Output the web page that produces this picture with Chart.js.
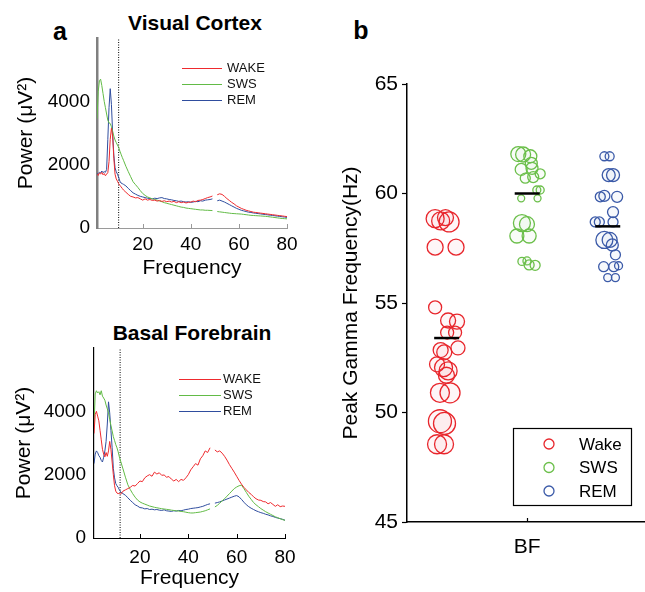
<!DOCTYPE html>
<html><head><meta charset="utf-8">
<script src="https://cdn.jsdelivr.net/npm/chart.js@4.4.1/dist/chart.umd.min.js"></script>
<style>
body{margin:0;background:#fff;width:645px;height:592px;position:relative;overflow:hidden;font-family:'Liberation Sans',Arial,sans-serif;}
canvas{position:absolute;}
.t{position:absolute;transform:translate(-50%,-50%);white-space:nowrap;line-height:1;color:#000;font-weight:bold;}
</style></head>
<body>
<div class="t" style="left:60px;top:31px;font-size:25px;">a</div>
<div class="t" style="left:361px;top:30px;font-size:25px;">b</div>
<div class="t" style="left:195px;top:22px;font-size:21px;">Visual Cortex</div>
<div class="t" style="left:192px;top:332px;font-size:21px;">Basal Forebrain</div>
<canvas id="vc" width="320" height="290" style="left:0;top:0;"></canvas>
<canvas id="bf" width="320" height="292" style="left:0;top:300px;"></canvas>
<canvas id="gm" width="315" height="592" style="left:330px;top:0;"></canvas>
<script>
// ---------- data ----------
const freqs = [1,1.5,2,2.5,3,3.5,4,4.5,5,5.5,6,6.5,7,7.5,8,8.5,9,9.5,10,10.5,11,11.5,12,
13,14,15,16,17,18,19,20,21,22,23,24,25,26,27,28,29,30,31,32,33,34,35,36,37,38,39,40,41,42,43,44,45,46,47,48,49,50,51,52,53,54,55,56,57,58,59,60,61,62,63,64,65,66,67,68,69,70,71,72,73,74,75,76,77,78,79,80];

const vcWake = [1700,1660,1740,1700,1760,1680,1720,1650,1700,1750,2100,2800,3150,2900,2200,1700,1550,1480,1400,1350,1300,1250,1200,
1130,1060,1000,980,950,960,920,880,920,880,900,870,880,850,870,840,860,830,850,820,840,800,830,800,820,790,810,820,850,830,870,880,900,930,960,980,1010,null,1050,1080,1060,1000,930,870,810,760,700,660,620,590,560,540,520,500,490,480,470,460,450,440,430,420,410,400,390,380,370,360];
const vcSws = [3450,4300,4650,4700,4500,4250,4000,3800,3600,3400,3320,3300,3200,3050,2900,2780,2700,2620,2550,2430,2330,2230,2140,
1950,1780,1620,1460,1370,1280,1180,1090,1030,980,950,920,900,880,850,830,800,780,760,740,720,700,680,660,650,630,620,610,600,590,580,570,570,560,560,555,550,null,520,510,500,490,480,470,460,455,450,445,440,430,420,410,400,395,390,385,380,375,370,360,350,340,330,320,310,300,295,290];
const vcRem = [1700,1720,1760,1740,1800,1750,1780,1760,1850,2800,3800,4400,3900,3000,2300,1900,1780,1700,1600,1480,1420,1400,1380,
1330,1250,1180,1110,1070,1030,1000,980,960,940,930,920,940,930,950,960,930,920,900,890,870,860,840,850,830,820,830,810,820,840,830,860,850,880,890,900,920,null,860,880,850,820,780,740,700,660,620,590,560,540,520,500,490,475,465,455,445,435,425,415,405,395,385,375,365,355,345,335];

const bfWake = [3300,3900,4000,3850,3700,3400,3100,2800,2650,2560,2700,2580,2750,3050,2800,2400,2000,1650,1480,1420,1400,1420,1380,
1480,1520,1560,1600,1660,1640,1720,1800,1780,1900,1960,2000,1950,2080,2020,2060,1980,1990,1920,1940,1860,1800,1850,1780,1850,1820,1900,2000,2150,2250,2350,2300,2500,2600,2750,2700,2850,null,2780,2720,2750,2680,2580,2460,2320,2200,2080,1950,1820,1700,1600,1520,1440,1380,1300,1240,1200,1190,1150,1140,1080,1120,1060,1000,1050,990,1010,1000];
const bfSws = [3550,4550,4650,4580,4620,4520,4650,4480,4420,4350,4200,4080,3950,3750,3550,3380,3200,3080,2950,2850,2720,2560,2430,
2180,1920,1680,1530,1400,1290,1200,1140,1100,1070,1040,1010,990,970,955,940,925,915,905,895,880,870,860,850,840,830,815,800,790,790,800,810,820,840,860,890,920,null,980,1030,1100,1170,1240,1320,1400,1480,1560,1610,1650,1670,1560,1440,1320,1220,1120,1050,990,930,880,830,790,750,710,670,640,610,580,560];
const bfRem = [2350,2650,2750,2700,2600,2550,2450,2400,2550,2750,3050,3600,4300,3950,3400,2850,2200,1900,1720,1650,1600,1520,1460,
1400,1350,1270,1190,1120,1050,1010,960,950,920,930,900,910,890,900,880,870,890,860,850,840,860,850,870,860,880,900,910,930,940,950,960,980,1000,1030,1060,1080,null,1100,1120,1140,1170,1200,1230,1260,1290,1320,1340,1300,1220,1130,1050,990,940,900,860,830,800,780,750,730,700,680,650,630,610,590,560];

const stateNames = ['WAKE','SWS','REM'];
const powerTicks = [0,2000,4000];
const freqTicks = [20,40,60,80];
const vcCutoff = 10;
const bfCutoff = 11.8;

const gammaNames = ['Wake','SWS','REM'];
const regionLabel = 'BF';
const gammaTicks = [45,50,55,60,65];
const wakeX = [0.617,0.640,0.675,0.660,0.617,0.704,0.617,0.671,0.708,0.667,0.700,0.712,0.640,0.655,0.625,0.652,0.671,0.664,0.637,0.679,0.637,0.656,0.625,0.654];
const wakeY = [58.85,58.75,58.7,58.9,57.55,57.55,54.8,54.2,54.15,53.65,53.65,52.95,52.85,52.75,52.2,52.05,51.9,51.7,50.9,50.9,49.6,49.5,48.55,48.55];
const wakeR = [9,9,10,8,8,8,6.5,7.5,7.5,6.5,6.5,7,7.5,7.5,7.5,9,9,8,9.5,10,11.5,11,9.5,9.5];
const swsX = [0.963,0.983,1.013,1.017,0.975,1.020,0.992,1.025,1.054,1.040,1.054,0.975,1.043,0.978,0.999,0.957,1.008,0.978,1.008,1.033,0.999];
const swsY = [61.8,61.78,61.7,61.38,61.1,61.15,60.7,60.75,60.9,60.16,60.16,59.78,59.78,58.65,58.6,58.06,58.06,56.9,56.74,56.72,56.92];
const swsR = [7.5,7.5,6.5,6,6,6,5,5.5,5,4,4,3.5,3.5,8.5,7.5,7,7,4,5,5,4];
const remX = [1.321,1.343,1.339,1.357,1.304,1.321,1.374,1.357,1.283,1.300,1.357,1.321,1.343,1.354,1.367,1.318,1.360,1.380,1.335,1.367];
const remY = [61.7,61.7,60.84,60.84,59.85,59.89,59.85,59.15,58.7,58.7,58.7,57.88,57.88,57.65,57.2,56.66,56.66,56.7,56.16,56.16];
const remR = [4.5,4.5,6.5,6.5,5,5.5,5.5,5.5,5,5,5,8.5,7.5,6,5,5,5,4,4,4];
const groupCenters = [0.665,1.0,1.335];
const groupMeans = [53.4,60.0,58.5];

// ---------- styling ----------
const FONT = "'Liberation Sans', Arial, sans-serif";
const RED = '#ee2a2e', GREEN = '#62bb46', BLUE = '#2f4d9e';
const CRED = '#e8262c', CGREEN = '#6bbf4a', CBLUE = '#3b5aa8';
const plain = v => String(v);

const inwardTicks = {
  id: 'inwardTicks',
  afterDraw(chart, args, o) {
    const ctx = chart.ctx, xs = chart.scales.x, y0 = chart.chartArea.bottom;
    ctx.save(); ctx.strokeStyle = o.color; ctx.lineWidth = o.width;
    o.values.forEach(v => { const px = Math.round(xs.getPixelForValue(v)) + 0.5;
      ctx.beginPath(); ctx.moveTo(px, y0); ctx.lineTo(px, y0 - o.len); ctx.stroke(); });
    ctx.restore();
  }
};
const lineLegend = {
  id: 'lineLegend',
  afterDraw(chart, args, o) {
    const ctx = chart.ctx; ctx.save();
    ctx.font = '13px ' + FONT; ctx.textBaseline = 'middle'; ctx.textAlign = 'left';
    chart.data.datasets.filter(d => d.label).forEach((d, i) => {
      const y = o.y + i * o.dy + 0.5;
      ctx.strokeStyle = d.borderColor; ctx.lineWidth = 1;
      ctx.beginPath(); ctx.moveTo(o.x1, y); ctx.lineTo(o.x2, y); ctx.stroke();
      ctx.fillStyle = '#111'; ctx.fillText(d.label, o.tx, y);
    });
    ctx.restore();
  }
};
const circleLegend = {
  id: 'circleLegend',
  afterDraw(chart, args, o) {
    const ctx = chart.ctx; ctx.save();
    ctx.fillStyle = '#fff'; ctx.fillRect(o.left, o.top, o.w, o.h);
    ctx.strokeStyle = '#000'; ctx.lineWidth = 1.2; ctx.strokeRect(o.left + 0.5, o.top + 0.5, o.w, o.h);
    ctx.font = '17px ' + FONT; ctx.textBaseline = 'middle'; ctx.textAlign = 'left';
    chart.data.datasets.filter(d => d.label).forEach((d, i) => {
      const y = o.y0 + i * o.dy;
      ctx.strokeStyle = d.borderColor; ctx.lineWidth = 1.3;
      ctx.beginPath(); ctx.arc(o.cx, y, 5, 0, Math.PI * 2); ctx.stroke();
      ctx.fillStyle = '#000'; ctx.fillText(d.label, o.tx, y + 1);
    });
    ctx.restore();
  }
};

function series(arr) { return freqs.map((f, i) => ({ x: f, y: arr[i] })); }

function spectrum(id, vals, cut, c) {
  const ds = [
    { label: stateNames[0], data: series(vals[0]), borderColor: RED },
    { label: stateNames[1], data: series(vals[1]), borderColor: GREEN },
    { label: stateNames[2], data: series(vals[2]), borderColor: BLUE },
    { data: [{ x: cut, y: 0 }, { x: cut, y: 6000 }], borderColor: '#000', borderDash: [1, 1.5] }
  ].map(d => Object.assign({ showLine: true, pointRadius: 0, borderWidth: 1, spanGaps: false, fill: false }, d));
  return new Chart(document.getElementById(id), {
    type: 'scatter',
    data: { datasets: ds },
    plugins: [inwardTicks, lineLegend],
    options: {
      responsive: false, animation: false, devicePixelRatio: 1, events: [],
      layout: { autoPadding: false, padding: { left: 0, right: c.padRight, top: c.padTop, bottom: 0 } },
      plugins: {
        legend: { display: false }, tooltip: { enabled: false },
        inwardTicks: { values: freqTicks, len: 4, color: c.xAxisColor, width: 1 },
        lineLegend: c.legend
      },
      scales: {
        x: {
          type: 'linear', min: 1, max: 80,
          afterBuildTicks: s => { s.ticks = freqTicks.map(v => ({ value: v })); },
          afterFit: s => { s.height = c.xHeight; },
          grid: { drawOnChartArea: false, drawTicks: false },
          border: { display: true, color: c.xAxisColor, width: 1 },
          ticks: { color: '#000', font: { family: FONT, size: 19 }, padding: c.xTickPad, maxRotation: 0, autoSkip: false, callback: plain },
          title: { display: true, text: 'Frequency', color: '#000', font: { family: FONT, size: 21 }, padding: { top: 0, bottom: c.xTitlePad } }
        },
        y: {
          min: 0, max: 6000,
          afterBuildTicks: s => { s.ticks = powerTicks.map(v => ({ value: v })); },
          afterFit: s => { s.width = c.yWidth; },
          grid: { drawOnChartArea: false, drawTicks: false },
          border: { display: true, color: c.yAxisColor, width: c.yAxisWidth },
          ticks: { color: '#000', font: { family: FONT, size: 19 }, padding: c.yTickPad, callback: plain },
          title: { display: true, text: 'Power (μV²)', color: '#000', font: { family: FONT, size: 21 }, padding: { top: c.yTitlePad, bottom: 0 } }
        }
      }
    }
  });
}

spectrum('vc', [vcWake, vcSws, vcRem], vcCutoff, {
  padRight: 33, padTop: 38, xHeight: 62, yWidth: 97, xTickPad: 5, xTitlePad: 9, yTickPad: 7, yTitlePad: 14,
  xAxisColor: '#9a9a9a', yAxisColor: '#808080', yAxisWidth: 2.5,
  legend: { x1: 182, x2: 222, tx: 227, y: 68, dy: 16 }
});
spectrum('bf', [bfWake, bfSws, bfRem], bfCutoff, {
  padRight: 35, padTop: 48, xHeight: 54, yWidth: 94, xTickPad: 8, xTitlePad: 1, yTickPad: 8, yTitlePad: 12,
  xAxisColor: '#000', yAxisColor: '#000', yAxisWidth: 1.2,
  legend: { x1: 179, x2: 221, tx: 223, y: 79, dy: 16 }
});

// ---------- panel b ----------
function bubbles(xs, ys, rs) { return xs.map((x, i) => ({ x: x, y: ys[i], r: rs[i] })); }
const gds = [
  { label: gammaNames[0], data: bubbles(wakeX, wakeY, wakeR), borderColor: CRED, backgroundColor: 'rgba(232,38,44,0.04)' },
  { label: gammaNames[1], data: bubbles(swsX, swsY, swsR), borderColor: CGREEN, backgroundColor: 'rgba(107,191,74,0.04)' },
  { label: gammaNames[2], data: bubbles(remX, remY, remR), borderColor: CBLUE, backgroundColor: 'rgba(59,90,168,0.04)' }
].map(d => Object.assign({ type: 'bubble', borderWidth: 1.3, order: 2, clip: false }, d));
groupMeans.forEach((m, i) => {
  gds.push({ type: 'line', data: [{ x: groupCenters[i] - 0.052, y: m }, { x: groupCenters[i] + 0.052, y: m }],
    borderColor: '#000', borderWidth: 2.5, pointRadius: 0, order: 0 });
});
new Chart(document.getElementById('gm'), {
  type: 'bubble',
  data: { datasets: gds },
  plugins: [inwardTicks, circleLegend],
  options: {
    responsive: false, animation: false, devicePixelRatio: 1, events: [],
    layout: { autoPadding: false, padding: { left: 0, right: 0, top: 84, bottom: 0 } },
    plugins: {
      legend: { display: false }, tooltip: { enabled: false },
      inwardTicks: { values: [1], len: 4, color: '#000', width: 1.2 },
      circleLegend: { left: 183, top: 428, w: 118, h: 77, cx: 219, tx: 249, y0: 444, dy: 23.5 }
    },
    scales: {
      x: {
        type: 'linear', min: 0.5, max: 1.49,
        afterBuildTicks: s => { s.ticks = [{ value: 1 }]; },
        afterFit: s => { s.height = 70; },
        grid: { drawOnChartArea: false, drawTicks: false },
        border: { display: true, color: '#000', width: 1.5 },
        ticks: { color: '#000', font: { family: FONT, size: 21 }, padding: 13, callback: () => regionLabel }
      },
      y: {
        min: 45, max: 65,
        afterBuildTicks: s => { s.ticks = gammaTicks.map(v => ({ value: v })); },
        afterFit: s => { s.width = 77; },
        grid: { drawOnChartArea: false, drawTicks: true, tickLength: 5, color: '#000', tickWidth: 1.2 },
        border: { display: true, color: '#000', width: 1.5 },
        ticks: { color: '#000', font: { family: FONT, size: 21 }, padding: 4, callback: plain },
        title: { display: true, text: 'Peak Gamma Frequency(Hz)', color: '#000', font: { family: FONT, size: 21 }, padding: { top: 9, bottom: 0 } }
      }
    }
  }
});
</script>
</body></html>
